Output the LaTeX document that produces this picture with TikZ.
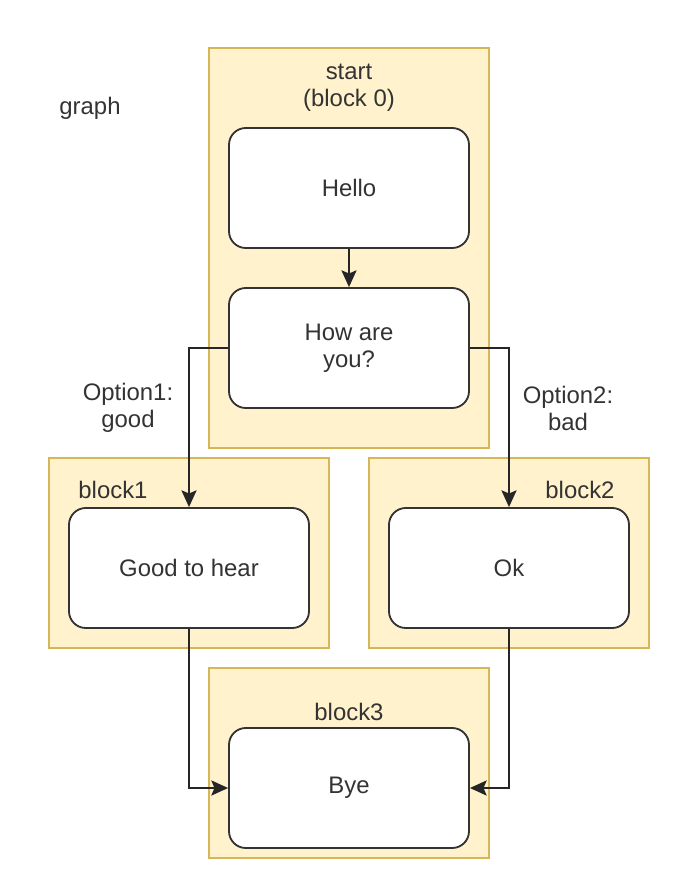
\documentclass[tikz,border=0pt]{standalone}
\usepackage{fontspec}
\setmainfont{Liberation Sans}
\definecolor{blockfill}{RGB}{255, 242, 204}
\definecolor{blockline}{RGB}{214, 182, 86}
\definecolor{textgray}{RGB}{51, 51, 51}
\usetikzlibrary{arrows.meta, positioning}

\begin{document}
\begin{tikzpicture}[
    blockbox/.style={draw=blockline, fill=blockfill, line width=1pt, minimum width=7cm},
    stepbox/.style={draw=black!80, fill=white, rounded corners=0.42cm, line width=1.3pt,
      minimum width=6cm, minimum height=3cm, align=center, text=textgray},
    lbl/.style={align=center, text=textgray},
    flow/.style={-{Stealth[length=0.42cm, width=0.38cm, inset=0.08cm]}, line width=1.1pt, black!85},
    font=\fontsize{17}{19.2}\selectfont
  ]
  \useasboundingbox (0, 0) rectangle (17.45, -22.3);

  % Blocks
  \node[blockbox, minimum height=10cm] (start) at (8.725, -6.2) {};
  \node[blockbox, minimum height=4.75cm] (blk1) at (4.725, -13.825) {};
  \node[blockbox, minimum height=4.75cm] (blk2) at (12.725, -13.825) {};
  \node[blockbox, minimum height=4.75cm] (blk3) at (8.725, -19.075) {};

  % Labels
  \node[lbl] (graph) at (2.25, -2.7) {graph};
  \node[lbl] (startlbl) at (8.725, -2.2) {start\\(block 0)};
  \node[lbl] (blk1lbl) at (2.825, -12.25) {block1};
  \node[lbl] (blk2lbl) at (14.5, -12.25) {block2};
  \node[lbl] (blk3lbl) at (8.725, -17.8) {block3};
  \node[lbl] (opt1) at (3.2, -10.2) {Option1:\\good};
  \node[lbl] (opt2) at (14.2, -10.2) {Option2:\\bad};

  % Steps
  \node[stepbox] (hello) at (8.725, -4.7) {Hello};
  \node[stepbox] (how) at (8.725, -8.7) {How are\\you?};
  \node[stepbox] (good) at (4.725, -14.2) {Good to hear};
  \node[stepbox] (ok) at (12.725, -14.2) {Ok};
  \node[stepbox] (bye) at (8.725, -19.7) {Bye};

  % Connectors
  \draw[flow] (hello) -- (how);
  \draw[flow] (how.west) -| (good.north);
  \draw[flow] (how.east) -| (ok.north);
  \draw[flow] (good.south) |- (bye.west);
  \draw[flow] (ok.south) |- (bye.east);
\end{tikzpicture}
\end{document}
